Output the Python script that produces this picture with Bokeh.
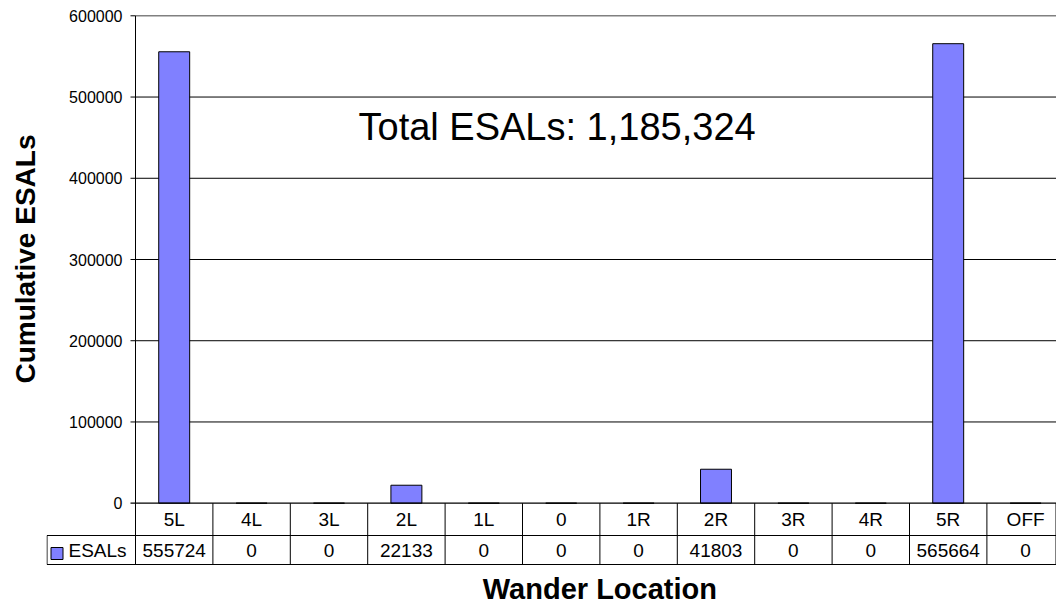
from bokeh.plotting import figure
from bokeh.models import Range1d, Label, Title
from bokeh.embed import file_html
from bokeh.resources import INLINE
from bokeh.core.properties import value

# ---------------- data ----------------
categories = ["5L", "4L", "3L", "2L", "1L", "0", "1R", "2R", "3R", "4R", "5R", "OFF"]
esals = [555724, 0, 0, 22133, 0, 0, 0, 41803, 0, 0, 565664, 0]
y_ticks = [0, 100000, 200000, 300000, 400000, 500000, 600000]
series_name = "ESALs"
x_title = "Wander Location"
y_title = "Cumulative ESALs"

# ---------------- style / layout (page px) ----------------
FONT = "Liberation Sans"
BAR_COLOR = "#8080FF"
W, H = 1056, 606
CELL = 77.4          # px per category
AXIS_X = 135         # value axis position
FRAME_LEFT = 46      # left edge of the data-table legend cell
TOP = 0
ZERO_PX = 502.7      # y of value 0
MAX_PX = 15.3        # y of top tick
ROW1_B = 535         # bottom of category row
ROW2_B = 564         # bottom of value row
ymax = y_ticks[-1]
ppu = (ZERO_PX - MAX_PX) / ymax


def yval(px):
    return (ZERO_PX - px) / ppu


def xval(px):
    return (px - AXIS_X) / CELL


n = len(categories)
xs = [i + 0.5 for i in range(n)]
x_end = xval(W)

p = figure(width=W, height=H, x_range=Range1d(xval(FRAME_LEFT), x_end), y_range=Range1d(yval(H), yval(TOP)),
           output_backend="svg", toolbar_location=None, x_axis_location=None, y_axis_location=None,
           min_border_left=FRAME_LEFT, min_border_right=0, min_border_top=TOP, min_border_bottom=0,
           outline_line_color=None, background_fill_color="white", border_fill_color="white")
for g in p.xgrid:
    g.visible = False
for g in p.ygrid:
    g.visible = False

LINE = dict(line_color="black", line_width=1)
TXT = dict(text_font=value(FONT), text_color="black")

# gridlines (from the tick marks) and top line
inner = y_ticks[1:-1]
p.segment(x0=[xval(130)] * len(inner), y0=inner, x1=[x_end] * len(inner), y1=inner, **LINE)
p.segment(x0=[0], y0=[ymax], x1=[x_end], y1=[ymax], line_color="#808080", line_width=1.5)
p.segment(x0=[xval(130)], y0=[ymax], x1=[0], y1=[ymax], **LINE)

# bars
p.vbar(x=xs, top=esals, bottom=0, width=0.4, fill_color=BAR_COLOR, line_color="black", line_width=1)

# value axis: line, ticks and labels
p.segment(x0=[0], y0=[ymax], x1=[0], y1=[yval(ROW2_B)], **LINE)
p.segment(x0=[xval(130)], y0=[0], x1=[x_end], y1=[0], line_color="black", line_width=1.2)
p.text(x=[xval(122)] * len(y_ticks), y=y_ticks, text=[str(t) for t in y_ticks], text_font_size=value("16px"),
       text_align="right", text_baseline="middle", **TXT)

# data table
p.segment(x0=[xval(FRAME_LEFT + 0.5)] * 2, y0=[yval(ROW1_B), yval(ROW2_B)], x1=[x_end] * 2,
          y1=[yval(ROW1_B), yval(ROW2_B)], **LINE)
bounds = list(range(1, n))
p.segment(x0=bounds, y0=[0] * len(bounds), x1=bounds, y1=[yval(ROW2_B)] * len(bounds), **LINE)
p.segment(x0=[xval(FRAME_LEFT + 0.5), xval(W - 0.5)], y0=[yval(ROW1_B), 0],
          x1=[xval(FRAME_LEFT + 0.5), xval(W - 0.5)], y1=[yval(ROW2_B)] * 2, **LINE)

p.text(x=xs, y=[yval(519)] * n, text=categories, text_font_size=value("19px"),
       text_align="center", text_baseline="middle", **TXT)
p.text(x=xs, y=[yval(549.5)] * n, text=[str(v) for v in esals], text_font_size=value("19px"),
       text_align="center", text_baseline="middle", **TXT)
p.rect(x=[xval(56.5)], y=[yval(553)], width=12, height=12, width_units="screen", height_units="screen",
       fill_color=BAR_COLOR, line_color="black", line_width=1)
p.text(x=[xval(68)], y=[yval(549.5)], text=[series_name], text_font_size=value("19px"),
       text_align="left", text_baseline="middle", **TXT)

# titles
p.text(x=[n / 2], y=[yval(588)], text=[x_title], text_font_size=value("29px"), text_font_style="bold",
       text_align="center", text_baseline="middle", **TXT)

total = sum(esals)
p.add_layout(Label(x=xval(358), y=yval(126), text=f"Total ESALs: {total:,}",
                   text_font=FONT, text_font_size="38px", text_color="black",
                   text_align="left", text_baseline="middle"))

p.add_layout(Title(text=y_title, align="left", offset=H - 383, text_font=FONT,
                   text_font_size="28px", text_font_style="bold", text_color="black", standoff=12), "left")

open("out.html", "w").write(file_html(p, INLINE))
